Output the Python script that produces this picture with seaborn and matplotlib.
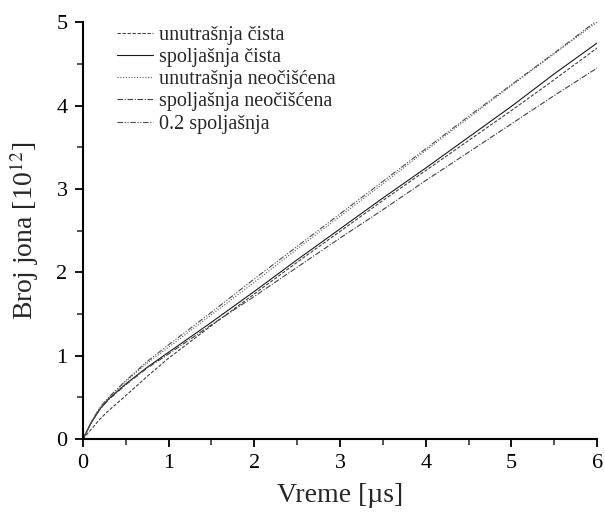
import numpy as np
import pandas as pd
import seaborn as sns
import matplotlib.pyplot as plt
from matplotlib.ticker import MultipleLocator

# Time axis [µs]
vreme = [0, 0.1, 0.2, 0.3, 0.5, 0.75, 1, 1.5, 2, 2.5, 3, 3.5, 4, 4.5, 5, 5.5, 6]

# Number of ions [10^12]
unutrasnja_cista = [0, 0.12, 0.24, 0.34, 0.52, 0.75, 0.97, 1.36, 1.74, 2.12, 2.49, 2.86, 3.22, 3.58, 3.94, 4.31, 4.69]
spoljasnja_cista = [0, 0.20, 0.36, 0.48, 0.66, 0.86, 1.04, 1.40, 1.77, 2.15, 2.52, 2.89, 3.25, 3.62, 3.99, 4.38, 4.75]
unutrasnja_neociscena = [0, 0.20, 0.37, 0.49, 0.69, 0.91, 1.10, 1.49, 1.88, 2.28, 2.67, 3.06, 3.46, 3.85, 4.24, 4.62, 5.00]
spoljasnja_neociscena = [0, 0.20, 0.36, 0.47, 0.65, 0.85, 1.02, 1.37, 1.71, 2.06, 2.41, 2.75, 3.10, 3.44, 3.78, 4.12, 4.45]
spoljasnja_02 = [0, 0.21, 0.38, 0.50, 0.70, 0.93, 1.13, 1.52, 1.92, 2.31, 2.70, 3.09, 3.48, 3.87, 4.25, 4.63, 5.02]

nazivi = ["unutrašnja čista", "spoljašnja čista", "unutrašnja neočišćena",
          "spoljašnja neočišćena", "0.2 spoljašnja"]
serije = [unutrasnja_cista, spoljasnja_cista, unutrasnja_neociscena,
          spoljasnja_neociscena, spoljasnja_02]

df = pd.DataFrame({
    "t": np.tile(vreme, len(nazivi)),
    "N": np.concatenate(serije),
    "serija": np.repeat(nazivi, len(vreme)),
})

sns.set_theme(style="ticks")
plt.rcParams["font.family"] = ["Liberation Serif", "DejaVu Serif"]
plt.rcParams["mathtext.fontset"] = "stix"

fig = plt.figure(figsize=(6.05, 5.15), dpi=100)
ax = fig.add_axes([0.137, 0.1476, 0.850, 0.8094])

crtice = {
    "unutrašnja čista": (3, 1.5),
    "spoljašnja čista": "",
    "unutrašnja neočišćena": (1, 1.5),
    "spoljašnja neočišćena": (5, 1.5, 1, 1.5),
    "0.2 spoljašnja": (5, 1.5, 1, 1.5, 1, 1.5),
}
boje = {
    "unutrašnja čista": "0.25",
    "spoljašnja čista": "0.1",
    "unutrašnja neočišćena": "0.35",
    "spoljašnja neočišćena": "0.25",
    "0.2 spoljašnja": "0.3",
}

sns.lineplot(data=df, x="t", y="N", hue="serija", style="serija",
             hue_order=nazivi, style_order=nazivi, palette=boje,
             dashes=crtice, linewidth=0.8, ax=ax)

ax.set_xlim(0, 6)
ax.set_ylim(0, 5)
ax.xaxis.set_major_locator(MultipleLocator(1))
ax.xaxis.set_minor_locator(MultipleLocator(0.5))
ax.yaxis.set_major_locator(MultipleLocator(1))
ax.yaxis.set_minor_locator(MultipleLocator(0.5))
ax.tick_params(which="major", direction="out", length=6, width=1.3,
               labelsize=16, colors="black", pad=5)
ax.tick_params(which="minor", direction="out", length=4, width=1.1)

for s in ["top", "right"]:
    ax.spines[s].set_visible(False)
for s in ["left", "bottom"]:
    ax.spines[s].set_linewidth(1.5)
    ax.spines[s].set_color("black")

ax.set_xlabel("Vreme [µs]", fontsize=20, labelpad=7)
ax.set_ylabel(r"Broj jona [10$^{12}$]", fontsize=20, labelpad=11)

ax.legend(loc="upper left", bbox_to_anchor=(0.05, 1.01), frameon=False,
          fontsize=14.5, handlelength=1.8, handletextpad=0.3,
          labelspacing=0.15, borderaxespad=0)

fig.savefig("out.png", dpi=100)
